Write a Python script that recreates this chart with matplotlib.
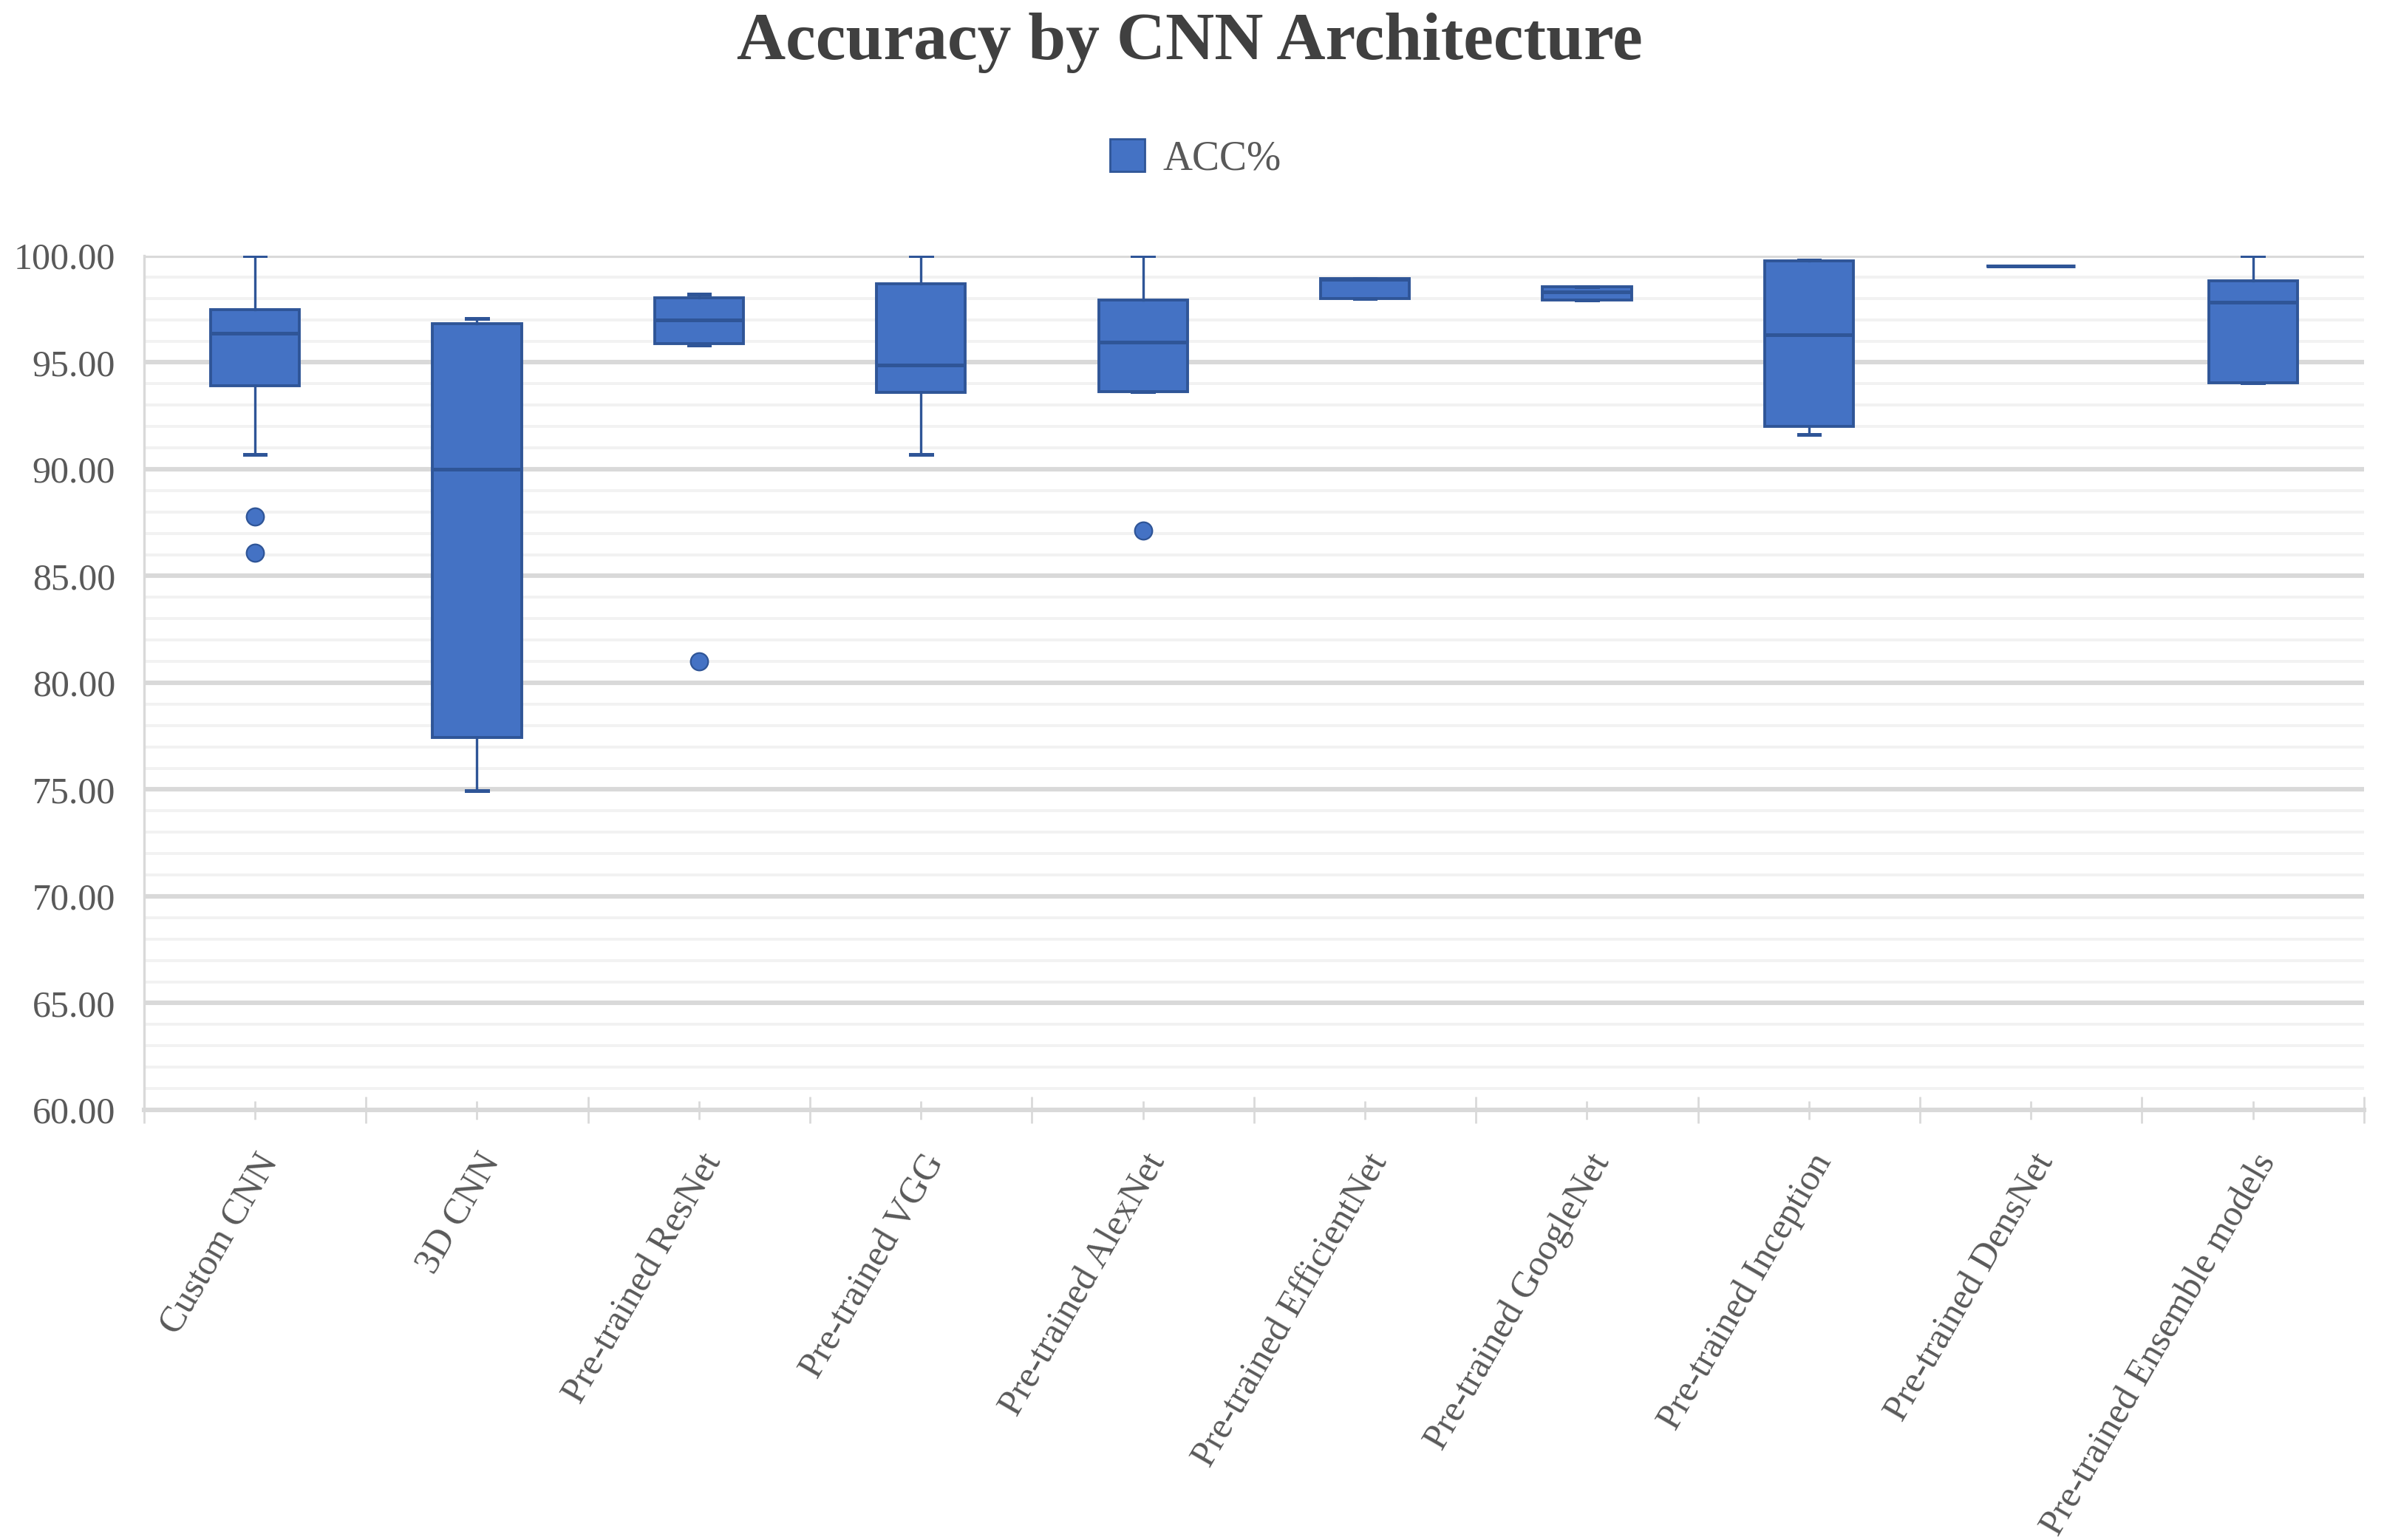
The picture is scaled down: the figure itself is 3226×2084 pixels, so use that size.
import numpy as np
import matplotlib
matplotlib.use("Agg")
import matplotlib.pyplot as plt
from matplotlib.patches import Patch
from matplotlib.ticker import MultipleLocator, FixedLocator, FormatStrFormatter

plt.rcParams['font.family'] = ['Liberation Serif', 'DejaVu Serif']

# data (box plot statistics per architecture)
categories = ["Custom CNN", "3D CNN", "Pre-trained ResNet", "Pre-trained VGG",
              "Pre-trained AlexNet", "Pre-trained EfficientNet", "Pre-trained GoogleNet",
              "Pre-trained Inception", "Pre-trained DensNet", "Pre-trained Ensemble models"]
q1 = [93.91, 77.45, 95.88, 93.59, 93.64, 97.99, 97.93, 92.00, 99.52, 94.03]
med = [96.36, 90.00, 97.00, 94.88, 95.94, 98.90, 98.30, 96.29, 99.52, 97.83]
q3 = [97.48, 96.82, 98.03, 98.68, 97.92, 98.92, 98.54, 99.75, 99.52, 98.82]
whislo = [90.70, 74.94, 95.82, 90.68, 93.64, 97.99, 97.93, 91.62, 99.52, 94.03]
whishi = [100.00, 97.07, 98.20, 100.00, 100.00, 98.92, 98.54, 99.80, 99.52, 100.00]
outliers = [[87.80, 86.08], [], [81.00], [], [87.11], [], [], [], [], []]

blue = '#4472C4'
edge = '#2F5597'
grey_txt = '#595959'

stats = []
for i in range(len(categories)):
    stats.append(dict(label=categories[i], q1=q1[i], med=med[i], q3=q3[i],
                      whislo=whislo[i], whishi=whishi[i], fliers=outliers[i]))

fig = plt.figure(figsize=(16.13, 10.42), dpi=200)
ax = fig.add_axes([0.0604, 0.2793, 0.9312, 0.5547])

pos = np.arange(1, len(categories) + 1)
ax.bxp(stats, positions=pos, widths=0.4, patch_artist=True, showfliers=True,
       boxprops=dict(facecolor=blue, edgecolor=edge, linewidth=1.4),
       medianprops=dict(color=edge, linewidth=1.8),
       whiskerprops=dict(color=edge, linewidth=1.2),
       capprops=dict(color=edge, linewidth=1.8),
       capwidths=0.095,
       flierprops=dict(marker='o', markerfacecolor=blue, markeredgecolor=edge,
                       markersize=8.5, markeredgewidth=0.8))

ax.set_xlim(0.5, len(categories) + 0.5)
ax.set_ylim(60, 100)
ax.yaxis.set_major_locator(MultipleLocator(5))
ax.yaxis.set_minor_locator(MultipleLocator(1))
ax.yaxis.set_major_formatter(FormatStrFormatter('%.2f'))
ax.set_axisbelow(True)
ax.grid(which='major', axis='y', color='#d9d9d9', linewidth=2.2)
ax.grid(which='minor', axis='y', color='#f2f2f2', linewidth=1.4)
ax.tick_params(axis='y', which='both', length=0, labelsize=18, labelcolor=grey_txt, pad=14)

ax.xaxis.set_major_locator(FixedLocator(np.arange(0.5, len(categories) + 1, 1.0)))
ax.xaxis.set_minor_locator(FixedLocator(pos))
ax.set_xticklabels([], minor=False)
ax.set_xticklabels(categories, minor=True, rotation=60, ha='right', va='top',
                   rotation_mode='anchor')
ax.tick_params(axis='x', which='major', direction='inout', length=13, width=1.0,
               color='#d9d9d9')
ax.tick_params(axis='x', which='minor', direction='inout', length=9, width=1.0,
               color='#d9d9d9', labelsize=18, labelcolor=grey_txt, pad=14)

for s in ['top', 'right']:
    ax.spines[s].set_visible(False)
ax.spines['left'].set_color('#d9d9d9')
ax.spines['left'].set_linewidth(1.2)
ax.spines['bottom'].set_color('#d9d9d9')
ax.spines['bottom'].set_linewidth(2.2)

fig.text(0.499, 0.972, "Accuracy by CNN Architecture", ha='center', va='center',
         fontsize=33, fontweight='bold', color='#404040')

fig.legend(handles=[Patch(facecolor=blue, edgecolor=edge, label='ACC%')],
           loc='center', bbox_to_anchor=(0.5015, 0.897), frameon=False,
           fontsize=20, handlelength=0.85, handleheight=0.85, handletextpad=0.45,
           labelcolor=grey_txt)

fig.savefig('out.png', dpi=200, facecolor='white')
